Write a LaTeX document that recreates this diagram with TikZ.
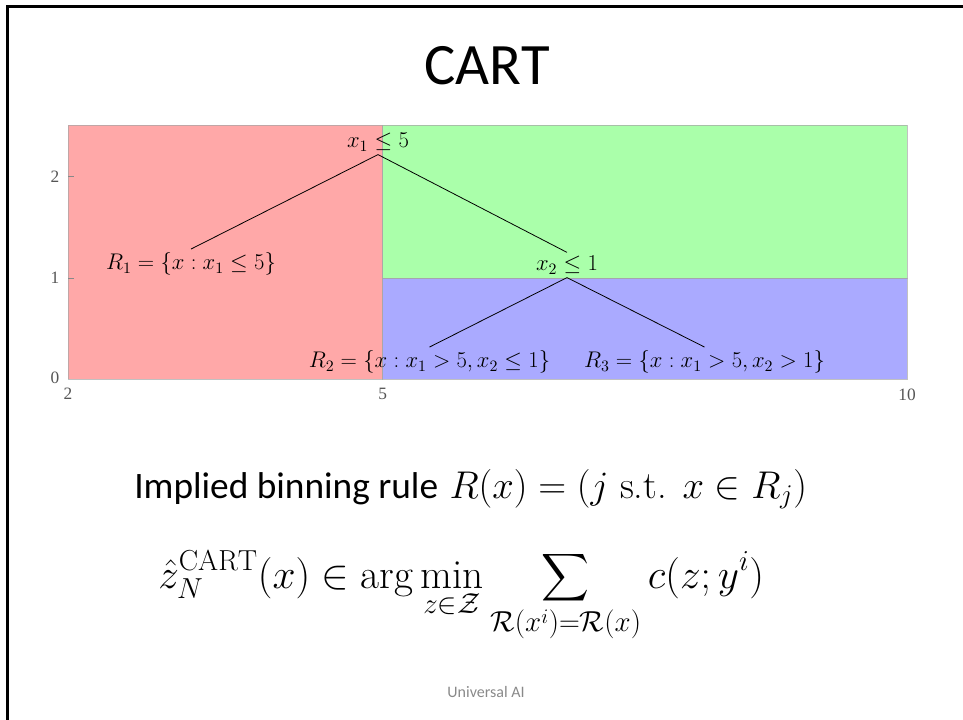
\RequirePackage{fix-cm}
\documentclass[tikz,border=0pt]{standalone}
\usepackage{amsmath}
\usepackage{fontspec}
\newfontfamily\carlito{Carlito}
\newfontfamily\tickfont{Liberation Serif}
\definecolor{regred}{RGB}{255,168,168}
\definecolor{reggreen}{RGB}{170,255,170}
\definecolor{regblue}{RGB}{170,170,255}
\definecolor{tickgray}{RGB}{85,85,85}
\definecolor{footgray}{RGB}{137,137,137}
\tikzset{
  region/.style={draw=black!35, draw opacity=0.7, line width=0.5pt},
  treelabel/.style={inner sep=2.5pt, font=\fontsize{17}{20}\selectfont},
  treeedge/.style={line width=0.6pt},
  ticklabel/.style={text=tickgray, inner sep=0pt, font=\tickfont\fontsize{13}{15}\selectfont},
  tickmark/.style={draw=tickgray!70, line width=0.6pt},
}
\begin{document}
\begin{tikzpicture}[x=0.75pt,y=-0.75pt]
\useasboundingbox (0,0) rectangle (963,720);
% slide frame
\draw[line width=2pt] (963,6.3) -- (7.3,6.3) -- (7.3,720);
% title
\node[anchor=base, inner sep=0pt, font=\carlito\fontsize{44}{52}\selectfont] (title) at (487,85) {CART};
% regions
\fill[regred] (68,125) rectangle (382.6,379);
\fill[reggreen] (382.6,125) rectangle (907,278);
\fill[regblue] (382.6,278) rectangle (907,379);
\draw[region] (68,125) rectangle (382.6,379);
\draw[region] (382.6,125) rectangle (907,278);
\draw[region] (382.6,278) rectangle (907,379);
% ticks
\draw[tickmark] (68,176.5) -- (74,176.5);
\draw[tickmark] (68,278) -- (74,278);
\node[ticklabel] (y2) at (55,176.5) {2};
\node[ticklabel] (y1) at (55,278) {1};
\node[ticklabel] (y0) at (55,378) {0};
\node[ticklabel] (x2) at (68,394) {2};
\node[ticklabel] (x5) at (382.6,394) {5};
\node[ticklabel] (x10) at (907,395) {10};
% tree
\node[treelabel] (root) at (378,142) {$x_1 \le 5$};
\node[treelabel] (r1) at (191,264) {$R_1 = \{x : x_1 \le 5\}$};
\node[treelabel] (n2) at (567,265) {$x_2 \le 1$};
\node[treelabel] (r2) at (429.5,362) {$R_2 = \{x : x_1 > 5, x_2 \le 1\}$};
\node[treelabel] (r3) at (704.5,362) {$R_3 = \{x : x_1 > 5, x_2 > 1\}$};
\draw[treeedge] (root.south) -- (r1.north);
\draw[treeedge] (root.south) -- (n2.north);
\draw[treeedge] (n2.south) -- (r2.north);
\draw[treeedge] (n2.south) -- (r3.north);
% binning rule
\node[anchor=base west, inner sep=0pt, font=\fontsize{28}{34}\selectfont] (rule) at (134,498)
  {{\carlito Implied binning rule} {\fontsize{29}{34}\selectfont$R(x) = (j \text{ s.t. } x \in R_j)$}};
% estimator
\node[anchor=base west, inner sep=0pt, font=\fontsize{31}{36}\selectfont] (est) at (158,588)
  {$\displaystyle \hat{z}_N^{\mathrm{CART}}(x) \in \arg\min_{z\in\mathcal{Z}} \sum_{\mathcal{R}(x^i)=\mathcal{R}(x)} c(z;y^i)$};
% footer
\node[anchor=base, inner sep=0pt, text=footgray, font=\carlito\fontsize{12}{14}\selectfont] (foot) at (486,697) {Universal AI};
\end{tikzpicture}
\end{document}
